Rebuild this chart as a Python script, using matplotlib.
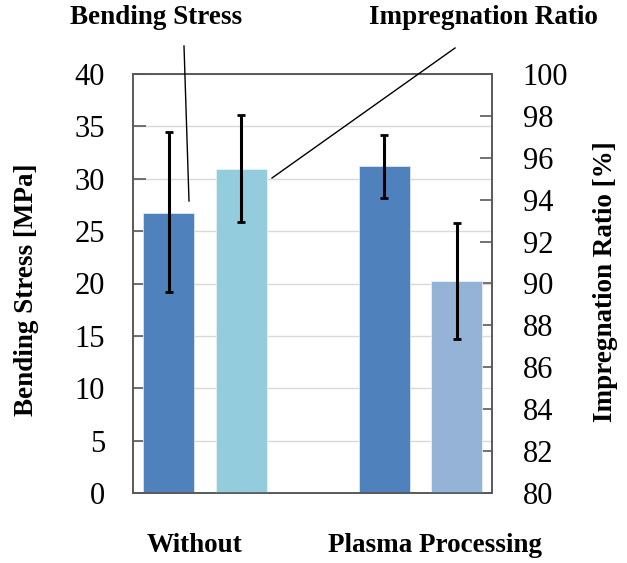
import numpy as np
import matplotlib.pyplot as plt

plt.rcParams['font.family'] = ['Liberation Serif', 'DejaVu Serif']

# datos
grupos = ["Without", "Plasma Processing"]
esfuerzo = [26.75, 31.17]          # MPa
esfuerzo_sup = [34.45, 34.16]
esfuerzo_inf = [19.15, 28.18]
impregnacion = [95.47, 90.1]       # %
impreg_sup = [98.05, 92.87]
impreg_inf = [92.92, 87.33]

fig = plt.figure(figsize=(6.27, 5.63), dpi=100)
ax = fig.add_axes([133/627, 70/563, 359/627, 419/563])
ax2 = ax.twinx()

x_esf = np.array([0.198, 1.400])
x_imp = np.array([0.603, 1.803])
ancho = 0.286

err_esf = [np.array(esfuerzo) - np.array(esfuerzo_inf), np.array(esfuerzo_sup) - np.array(esfuerzo)]
err_imp = [np.array(impregnacion) - np.array(impreg_inf), np.array(impreg_sup) - np.array(impregnacion)]

ax.bar(x_esf, esfuerzo, width=ancho, color="#4F81BD", edgecolor="#DCE6F2", linewidth=0.6, zorder=2)
ax.errorbar(x_esf, esfuerzo, yerr=err_esf, fmt="none", ecolor="black", elinewidth=2.2, capsize=2.7, capthick=2, zorder=3)

ax2.bar(x_imp, [v - 80 for v in impregnacion], bottom=80, width=ancho,
        color=["#93CDDD", "#95B3D7"], edgecolor="#E6F0F5", linewidth=0.6, zorder=2)
ax2.errorbar(x_imp, impregnacion, yerr=err_imp, fmt="none", ecolor="black", elinewidth=2.2, capsize=2.7, capthick=2, zorder=3)

ax.set_xlim(0, 2)
ax.set_ylim(0, 40)
ax.set_yticks(np.arange(0, 41, 5))
ax2.set_ylim(80, 100)
ax2.set_yticks(np.arange(80, 101, 2))
ax.set_xticks([])
ax.yaxis.grid(True, color="#D9D9D9", linewidth=1, zorder=0)
ax.set_axisbelow(True)

for a in (ax, ax2):
    for s in a.spines.values():
        s.set_color("#595959")
        s.set_linewidth(1.2)
ax.tick_params(axis='y', direction='in', length=9, width=1.2, color="#595959", labelsize=22, pad=20)
ax2.tick_params(axis='y', direction='in', length=9, width=1.2, color="#595959", labelsize=22, pad=22)

# titulos de ejes
fig.text(27/627, 1 - 290/563, "Bending Stress [MPa]", rotation=90, ha="center", va="center",
         fontsize=19.5, fontweight="bold")
fig.text(605/627, 1 - 282/563, "Impregnation Ratio [%]", rotation=90, ha="center", va="center",
         fontsize=19.5, fontweight="bold")

# etiquetas de categoria
ax.text(0.345, -0.125, grupos[0], transform=ax.get_xaxis_transform(), ha="center", va="center",
        fontsize=19.5, fontweight="bold")
ax.text(1.68, -0.125, grupos[1], transform=ax.get_xaxis_transform(), ha="center", va="center",
        fontsize=19.5, fontweight="bold")

# leyendas con lineas
fig.text(156/627, 1 - 18/563, "Bending Stress", ha="center", va="center", fontsize=19.5, fontweight="bold")
fig.text(483/627, 1 - 18/563, "Impregnation Ratio", ha="center", va="center", fontsize=19.5, fontweight="bold")
fig.add_artist(plt.Line2D([184/627, 189/627], [1 - 46/563, 1 - 201/563], color="black", lw=1))
fig.add_artist(plt.Line2D([455/627, 272/627], [1 - 48/563, 1 - 178/563], color="black", lw=1))

fig.savefig("out.png", dpi=100)
